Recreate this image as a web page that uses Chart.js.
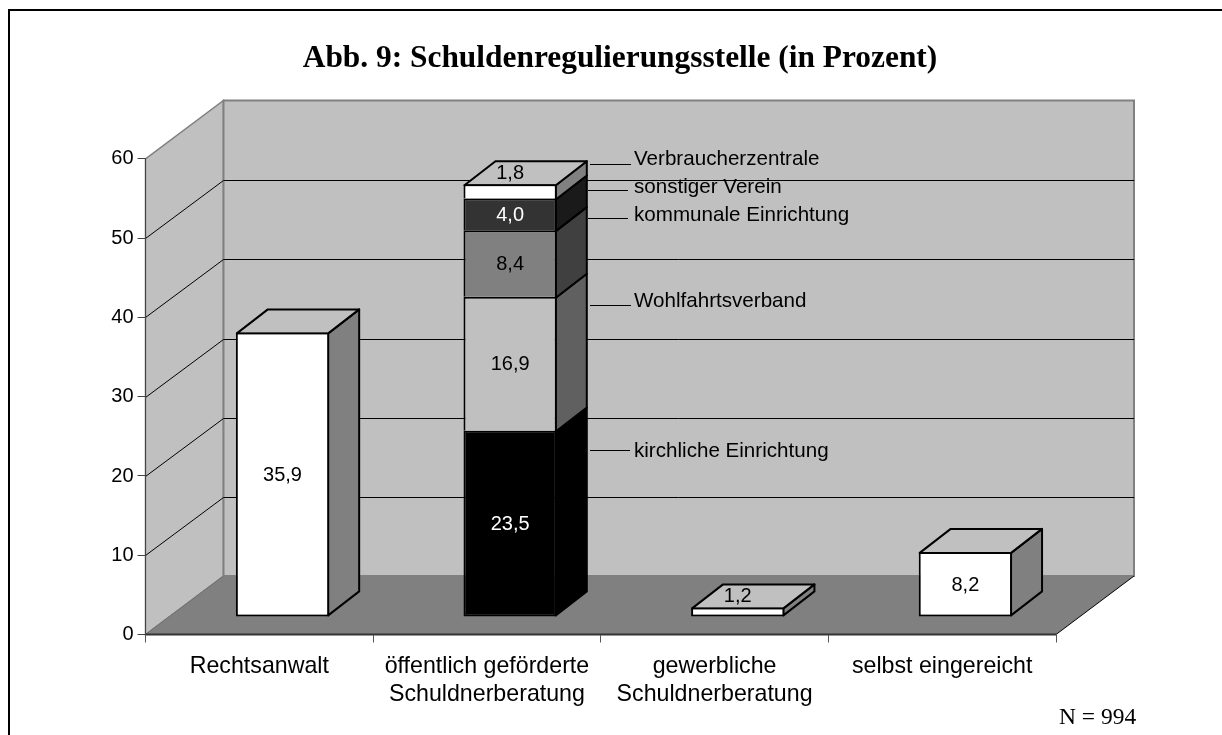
<!DOCTYPE html>
<html>
<head>
<meta charset="utf-8">
<title>Schuldenregulierungsstelle</title>
<script src="https://cdn.jsdelivr.net/npm/chart.js@4/dist/chart.umd.min.js"></script>
<style>
  body { margin: 0; background: #fff; }
  canvas { display: block; }
</style>
</head>
<body>
<canvas id="chart" width="1222" height="735"></canvas>
<script>
const categories = ['Rechtsanwalt', ['öffentlich geförderte', 'Schuldnerberatung'], ['gewerbliche', 'Schuldnerberatung'], 'selbst eingereicht']
const yTicks = [0, 10, 20, 30, 40, 50, 60]

const gesamt = [35.9, null, 1.2, 8.2]
const kirchlich = [null, 23.5, null, null]
const wohlfahrt = [null, 16.9, null, null]
const kommunal = [null, 8.4, null, null]
const sonstiger = [null, 4.0, null, null]
const verbraucher = [null, 1.8, null, null]

const leaderLabels = ['Verbraucherzentrale', 'sonstiger Verein', 'kommunale Einrichtung', 'Wohlfahrtsverband', 'kirchliche Einrichtung']

// depth of the room and of the bars, in pixels
const room = { dx: 78, dy: -58.5 }
const barShift = { dx: 23.2, dy: -17.6 }
const barDepth = { dx: 31, dy: -24 }
const sans = '"Liberation Sans", Arial, sans-serif'
const serif = '"Liberation Serif", "Times New Roman", serif'

const full = { top: 2, left: 2, right: 2, bottom: 2 }
const noBottom = { top: 2, left: 2, right: 2, bottom: 0 }

function poly(ctx, pts, fill, stroke, width) {
  ctx.beginPath()
  pts.forEach((p, i) => i ? ctx.lineTo(p[0], p[1]) : ctx.moveTo(p[0], p[1]))
  ctx.closePath()
  if (fill) { ctx.fillStyle = fill; ctx.fill() }
  if (stroke) { ctx.strokeStyle = stroke; ctx.lineWidth = width; ctx.stroke() }
}

function line(ctx, x1, y1, x2, y2, color, width) {
  ctx.beginPath()
  ctx.moveTo(x1, y1)
  ctx.lineTo(x2, y2)
  ctx.strokeStyle = color
  ctx.lineWidth = width
  ctx.stroke()
}

const roomPlugin = {
  id: 'room',
  beforeDraw(chart) {
    const { ctx, chartArea: a, scales: { y } } = chart
    const y0 = y.getPixelForValue(0)
    const top = y.getPixelForValue(60)
    ctx.save()
    // page frame, left and top only
    ctx.fillStyle = '#000'
    ctx.fillRect(8, 9, 2, 726)
    ctx.fillRect(8, 9, 1214, 2)
    // walls
    poly(ctx, [[a.left, y0], [a.left, top], [a.left + room.dx, top + room.dy], [a.left + room.dx, y0 + room.dy]], '#c0c0c0', '#808080', 1.5)
    poly(ctx, [[a.left + room.dx, y0 + room.dy], [a.left + room.dx, top + room.dy], [a.right + room.dx, top + room.dy], [a.right + room.dx, y0 + room.dy]], '#c0c0c0', '#808080', 2)
    // grid lines
    yTicks.slice(1, -1).forEach(v => {
      const py = Math.round(y.getPixelForValue(v)) + 0.5
      const by = Math.round(py + room.dy) + 0.5
      line(ctx, a.left, py, a.left + room.dx, by, '#000', 1)
      line(ctx, a.left + room.dx, by, a.right + room.dx, by, '#000', 1)
    })
    // floor
    poly(ctx, [[a.left, y0], [a.left + room.dx, y0 + room.dy], [a.right + room.dx, y0 + room.dy], [a.right, y0]], '#808080')
    line(ctx, a.left, y0, a.left + room.dx, y0 + room.dy, '#707070', 1)
    line(ctx, a.right, y0, a.right + room.dx, y0 + room.dy, '#000', 1)
    line(ctx, a.left, y0, a.right, y0, '#333', 2)
    ctx.restore()
  },
  beforeDatasetsDraw(chart) {
    const ctx = chart.ctx
    const topOfStack = {}
    chart.data.datasets.forEach((ds, d) => {
      ds.data.forEach((v, i) => { if (v != null) topOfStack[i] = d })
    })
    ctx.save()
    ctx.translate(barShift.dx, barShift.dy)
    ctx.lineJoin = 'round'
    chart.data.datasets.forEach((ds, d) => {
      chart.getDatasetMeta(d).data.forEach((bar, i) => {
        if (ds.data[i] == null) return
        const r = bar.x + bar.width / 2 - 1
        const l = bar.x - bar.width / 2 + 1
        const t = bar.y + 1
        // upper segments share their lower edge with the top edge of the one below
        const b = ds.borderWidth === noBottom ? bar.base + 1 : bar.base - 1
        poly(ctx, [[r, t], [r + barDepth.dx, t + barDepth.dy], [r + barDepth.dx, b + barDepth.dy], [r, b]], ds.sideColor, '#000', 2)
        if (topOfStack[i] === d) {
          poly(ctx, [[l, t], [l + barDepth.dx, t + barDepth.dy], [r + barDepth.dx, t + barDepth.dy], [r, t]], '#c0c0c0', '#000', 2)
        }
      })
    })
    // the bars themselves are drawn by Chart.js inside this shift
  },
  afterDatasetsDraw(chart) {
    const ctx = chart.ctx
    ctx.restore()

    // value labels
    ctx.save()
    ctx.font = '20px ' + sans
    ctx.textAlign = 'center'
    ctx.textBaseline = 'middle'
    chart.data.datasets.forEach((ds, d) => {
      chart.getDatasetMeta(d).data.forEach((bar, i) => {
        const v = ds.data[i]
        if (v == null) return
        const text = v.toFixed(1).replace('.', ',')
        const x = bar.x + barShift.dx
        const small = v < 2
        const py = small ? bar.y + barShift.dy - 12 : (bar.y + bar.base) / 2 + barShift.dy
        ctx.fillStyle = small ? '#000' : ds.labelColor
        ctx.fillText(text, x, py + 1)
      })
    })

    // leader lines with the stack's segment names
    const leaders = [
      [590, 631, 164],
      [588, 628, 190],
      [588, 628, 218],
      [590, 631, 305],
      [590, 630, 450]
    ]
    const textY = [159, 187, 215, 301, 451]
    ctx.textAlign = 'left'
    ctx.font = '20.6px ' + sans
    ctx.fillStyle = '#000'
    leaderLabels.forEach((name, i) => {
      const [x1, x2, ly] = leaders[i]
      line(ctx, x1, ly + 0.5, x2, ly + 0.5, '#000', 1)
      ctx.fillText(name, 634, textY[i])
    })

    ctx.font = '23.5px ' + serif
    ctx.fillText('N = 994', 1059, 718)
    ctx.restore()
  }
}

new Chart(document.getElementById('chart'), {
  type: 'bar',
  data: {
    labels: categories,
    datasets: [
      { label: 'gesamt', data: gesamt, backgroundColor: '#fff', sideColor: '#808080', labelColor: '#000', borderWidth: full },
      { label: 'kirchliche Einrichtung', data: kirchlich, backgroundColor: '#000', sideColor: '#000', labelColor: '#fff', borderWidth: full },
      { label: 'Wohlfahrtsverband', data: wohlfahrt, backgroundColor: '#c0c0c0', sideColor: '#606060', labelColor: '#000', borderWidth: noBottom },
      { label: 'kommunale Einrichtung', data: kommunal, backgroundColor: '#808080', sideColor: '#404040', labelColor: '#000', borderWidth: noBottom },
      { label: 'sonstiger Verein', data: sonstiger, backgroundColor: '#333', sideColor: '#1a1a1a', labelColor: '#fff', borderWidth: noBottom },
      { label: 'Verbraucherzentrale', data: verbraucher, backgroundColor: '#fff', sideColor: '#808080', labelColor: '#000', borderWidth: noBottom }
    ].map(ds => ({ ...ds, borderColor: '#000', borderSkipped: false, clip: false, categoryPercentage: 1, barPercentage: 0.41 }))
  },
  plugins: [roomPlugin],
  options: {
    responsive: false,
    animation: false,
    layout: { padding: { left: 18, right: 0, top: 0, bottom: 0 } },
    plugins: {
      legend: { display: false },
      tooltip: { enabled: false },
      title: {
        display: true,
        text: 'Abb. 9: Schuldenregulierungsstelle (in Prozent)',
        color: '#000',
        font: { family: serif, size: 31.4, weight: 'bold', lineHeight: 1.2 },
        padding: { top: 40.5, bottom: 80.8 }
      }
    },
    scales: {
      x: {
        stacked: true,
        afterFit: s => { s.height = 100.5 },
        grid: { offset: true, drawOnChartArea: false, tickLength: 8, color: '#555' },
        border: { display: false },
        ticks: { autoSkip: false, maxRotation: 0, color: '#000', padding: 10, font: { family: sans, size: 23.2, lineHeight: 1.207 } }
      },
      y: {
        stacked: true,
        min: 0,
        max: 60,
        afterFit: s => { s.width = 127.5 },
        afterBuildTicks: s => { s.ticks = yTicks.map(value => ({ value })) },
        grid: { drawOnChartArea: false, tickLength: 8, color: '#444' },
        border: { display: true, color: '#444', width: 1 },
        ticks: { color: '#000', padding: 4, font: { family: sans, size: 20 } }
      },
      // empty right-hand axis, only keeps the room's depth free beside the plot
      spare: {
        type: 'linear',
        axis: 'y',
        position: 'right',
        afterFit: s => { s.width = 166 },
        grid: { display: false },
        border: { display: false },
        ticks: { display: false }
      }
    }
  }
})
</script>
</body>
</html>
